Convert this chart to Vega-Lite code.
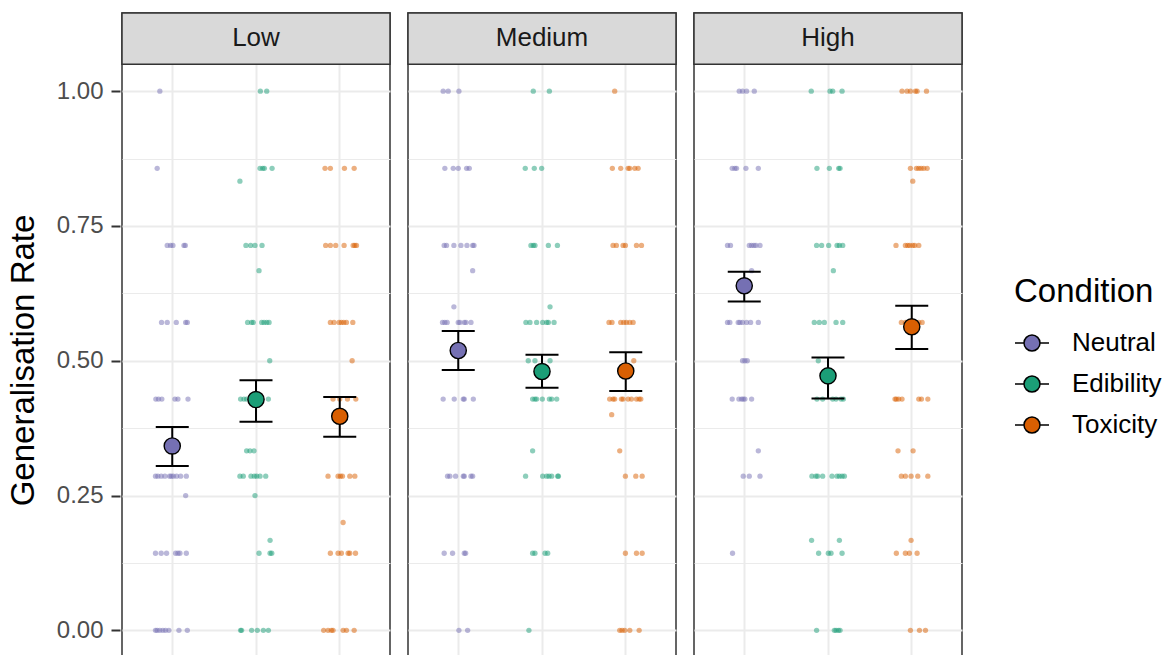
{
"$schema": "https://vega.github.io/schema/vega-lite/v6.json",
"background": "white",
"padding": {"left": 7, "top": 11, "right": 0, "bottom": 0},
"data": {"values": [
{"level":"Low","cond":"Neutral","rate":1,"jit":-0.148},
{"level":"Low","cond":"Neutral","rate":0.857,"jit":-0.18},
{"level":"Low","cond":"Neutral","rate":0.714,"jit":-0.06},
{"level":"Low","cond":"Neutral","rate":0.714,"jit":-0.02},
{"level":"Low","cond":"Neutral","rate":0.714,"jit":0.008},
{"level":"Low","cond":"Neutral","rate":0.714,"jit":0.14},
{"level":"Low","cond":"Neutral","rate":0.714,"jit":0.156},
{"level":"Low","cond":"Neutral","rate":0.571,"jit":-0.128},
{"level":"Low","cond":"Neutral","rate":0.571,"jit":-0.06},
{"level":"Low","cond":"Neutral","rate":0.571,"jit":0.048},
{"level":"Low","cond":"Neutral","rate":0.571,"jit":0.16},
{"level":"Low","cond":"Neutral","rate":0.571,"jit":0.18},
{"level":"Low","cond":"Neutral","rate":0.429,"jit":-0.196},
{"level":"Low","cond":"Neutral","rate":0.429,"jit":-0.164},
{"level":"Low","cond":"Neutral","rate":0.429,"jit":-0.124},
{"level":"Low","cond":"Neutral","rate":0.429,"jit":0.032},
{"level":"Low","cond":"Neutral","rate":0.429,"jit":0.068},
{"level":"Low","cond":"Neutral","rate":0.429,"jit":0.188},
{"level":"Low","cond":"Neutral","rate":0.286,"jit":-0.2},
{"level":"Low","cond":"Neutral","rate":0.286,"jit":-0.172},
{"level":"Low","cond":"Neutral","rate":0.286,"jit":-0.132},
{"level":"Low","cond":"Neutral","rate":0.286,"jit":-0.088},
{"level":"Low","cond":"Neutral","rate":0.286,"jit":-0.032},
{"level":"Low","cond":"Neutral","rate":0.286,"jit":-0.012},
{"level":"Low","cond":"Neutral","rate":0.286,"jit":0.012},
{"level":"Low","cond":"Neutral","rate":0.286,"jit":0.052},
{"level":"Low","cond":"Neutral","rate":0.286,"jit":0.1},
{"level":"Low","cond":"Neutral","rate":0.286,"jit":0.168},
{"level":"Low","cond":"Neutral","rate":0.25,"jit":0.16},
{"level":"Low","cond":"Neutral","rate":0.143,"jit":-0.2},
{"level":"Low","cond":"Neutral","rate":0.143,"jit":-0.132},
{"level":"Low","cond":"Neutral","rate":0.143,"jit":-0.068},
{"level":"Low","cond":"Neutral","rate":0.143,"jit":0.04},
{"level":"Low","cond":"Neutral","rate":0.143,"jit":0.068},
{"level":"Low","cond":"Neutral","rate":0.143,"jit":0.092},
{"level":"Low","cond":"Neutral","rate":0.143,"jit":0.168},
{"level":"Low","cond":"Neutral","rate":0,"jit":-0.2},
{"level":"Low","cond":"Neutral","rate":0,"jit":-0.18},
{"level":"Low","cond":"Neutral","rate":0,"jit":-0.148},
{"level":"Low","cond":"Neutral","rate":0,"jit":-0.112},
{"level":"Low","cond":"Neutral","rate":0,"jit":-0.08},
{"level":"Low","cond":"Neutral","rate":0,"jit":-0.04},
{"level":"Low","cond":"Neutral","rate":0,"jit":0.08},
{"level":"Low","cond":"Neutral","rate":0,"jit":0.18},
{"level":"Low","cond":"Edibility","rate":1,"jit":0.052},
{"level":"Low","cond":"Edibility","rate":1,"jit":0.128},
{"level":"Low","cond":"Edibility","rate":0.857,"jit":0.048},
{"level":"Low","cond":"Edibility","rate":0.857,"jit":0.08},
{"level":"Low","cond":"Edibility","rate":0.857,"jit":0.1},
{"level":"Low","cond":"Edibility","rate":0.857,"jit":0.192},
{"level":"Low","cond":"Edibility","rate":0.833,"jit":-0.192},
{"level":"Low","cond":"Edibility","rate":0.714,"jit":-0.12},
{"level":"Low","cond":"Edibility","rate":0.714,"jit":-0.064},
{"level":"Low","cond":"Edibility","rate":0.714,"jit":-0.012},
{"level":"Low","cond":"Edibility","rate":0.714,"jit":0.072},
{"level":"Low","cond":"Edibility","rate":0.667,"jit":0.036},
{"level":"Low","cond":"Edibility","rate":0.571,"jit":-0.1},
{"level":"Low","cond":"Edibility","rate":0.571,"jit":-0.052},
{"level":"Low","cond":"Edibility","rate":0.571,"jit":-0.032},
{"level":"Low","cond":"Edibility","rate":0.571,"jit":0.068},
{"level":"Low","cond":"Edibility","rate":0.571,"jit":0.096},
{"level":"Low","cond":"Edibility","rate":0.571,"jit":0.128},
{"level":"Low","cond":"Edibility","rate":0.571,"jit":0.156},
{"level":"Low","cond":"Edibility","rate":0.5,"jit":0.164},
{"level":"Low","cond":"Edibility","rate":0.429,"jit":-0.184},
{"level":"Low","cond":"Edibility","rate":0.429,"jit":-0.144},
{"level":"Low","cond":"Edibility","rate":0.429,"jit":-0.112},
{"level":"Low","cond":"Edibility","rate":0.429,"jit":-0.06},
{"level":"Low","cond":"Edibility","rate":0.429,"jit":0.068},
{"level":"Low","cond":"Edibility","rate":0.429,"jit":0.148},
{"level":"Low","cond":"Edibility","rate":0.333,"jit":-0.112},
{"level":"Low","cond":"Edibility","rate":0.333,"jit":-0.072},
{"level":"Low","cond":"Edibility","rate":0.333,"jit":-0.024},
{"level":"Low","cond":"Edibility","rate":0.286,"jit":-0.192},
{"level":"Low","cond":"Edibility","rate":0.286,"jit":-0.152},
{"level":"Low","cond":"Edibility","rate":0.286,"jit":-0.06},
{"level":"Low","cond":"Edibility","rate":0.286,"jit":-0.02},
{"level":"Low","cond":"Edibility","rate":0.286,"jit":0.008},
{"level":"Low","cond":"Edibility","rate":0.286,"jit":0.048},
{"level":"Low","cond":"Edibility","rate":0.286,"jit":0.116},
{"level":"Low","cond":"Edibility","rate":0.25,"jit":-0.012},
{"level":"Low","cond":"Edibility","rate":0.167,"jit":0.168},
{"level":"Low","cond":"Edibility","rate":0.143,"jit":0.036},
{"level":"Low","cond":"Edibility","rate":0.143,"jit":0.168},
{"level":"Low","cond":"Edibility","rate":0.143,"jit":0.188},
{"level":"Low","cond":"Edibility","rate":0,"jit":-0.184},
{"level":"Low","cond":"Edibility","rate":0,"jit":-0.172},
{"level":"Low","cond":"Edibility","rate":0,"jit":-0.052},
{"level":"Low","cond":"Edibility","rate":0,"jit":0.016},
{"level":"Low","cond":"Edibility","rate":0,"jit":0.088},
{"level":"Low","cond":"Edibility","rate":0,"jit":0.148},
{"level":"Low","cond":"Toxicity","rate":0.857,"jit":-0.176},
{"level":"Low","cond":"Toxicity","rate":0.857,"jit":-0.112},
{"level":"Low","cond":"Toxicity","rate":0.857,"jit":0.056},
{"level":"Low","cond":"Toxicity","rate":0.857,"jit":0.172},
{"level":"Low","cond":"Toxicity","rate":0.714,"jit":-0.168},
{"level":"Low","cond":"Toxicity","rate":0.714,"jit":-0.112},
{"level":"Low","cond":"Toxicity","rate":0.714,"jit":-0.048},
{"level":"Low","cond":"Toxicity","rate":0.714,"jit":0.052},
{"level":"Low","cond":"Toxicity","rate":0.714,"jit":0.16},
{"level":"Low","cond":"Toxicity","rate":0.714,"jit":0.18},
{"level":"Low","cond":"Toxicity","rate":0.714,"jit":0.2},
{"level":"Low","cond":"Toxicity","rate":0.571,"jit":-0.112},
{"level":"Low","cond":"Toxicity","rate":0.571,"jit":-0.068},
{"level":"Low","cond":"Toxicity","rate":0.571,"jit":-0.008},
{"level":"Low","cond":"Toxicity","rate":0.571,"jit":0.02},
{"level":"Low","cond":"Toxicity","rate":0.571,"jit":0.048},
{"level":"Low","cond":"Toxicity","rate":0.571,"jit":0.08},
{"level":"Low","cond":"Toxicity","rate":0.571,"jit":0.156},
{"level":"Low","cond":"Toxicity","rate":0.5,"jit":0.148},
{"level":"Low","cond":"Toxicity","rate":0.429,"jit":-0.08},
{"level":"Low","cond":"Toxicity","rate":0.429,"jit":0},
{"level":"Low","cond":"Toxicity","rate":0.429,"jit":0.092},
{"level":"Low","cond":"Toxicity","rate":0.429,"jit":0.192},
{"level":"Low","cond":"Toxicity","rate":0.286,"jit":-0.14},
{"level":"Low","cond":"Toxicity","rate":0.286,"jit":-0.02},
{"level":"Low","cond":"Toxicity","rate":0.286,"jit":0.008},
{"level":"Low","cond":"Toxicity","rate":0.286,"jit":0.032},
{"level":"Low","cond":"Toxicity","rate":0.286,"jit":0.12},
{"level":"Low","cond":"Toxicity","rate":0.286,"jit":0.18},
{"level":"Low","cond":"Toxicity","rate":0.2,"jit":0.04},
{"level":"Low","cond":"Toxicity","rate":0.143,"jit":-0.112},
{"level":"Low","cond":"Toxicity","rate":0.143,"jit":-0.02},
{"level":"Low","cond":"Toxicity","rate":0.143,"jit":0.02},
{"level":"Low","cond":"Toxicity","rate":0.143,"jit":0.1},
{"level":"Low","cond":"Toxicity","rate":0.143,"jit":0.12},
{"level":"Low","cond":"Toxicity","rate":0.143,"jit":0.188},
{"level":"Low","cond":"Toxicity","rate":0,"jit":-0.192},
{"level":"Low","cond":"Toxicity","rate":0,"jit":-0.14},
{"level":"Low","cond":"Toxicity","rate":0,"jit":-0.1},
{"level":"Low","cond":"Toxicity","rate":0,"jit":-0.08},
{"level":"Low","cond":"Toxicity","rate":0,"jit":0.04},
{"level":"Low","cond":"Toxicity","rate":0,"jit":0.08},
{"level":"Low","cond":"Toxicity","rate":0,"jit":0.172},
{"level":"Medium","cond":"Neutral","rate":1,"jit":-0.18},
{"level":"Medium","cond":"Neutral","rate":1,"jit":-0.12},
{"level":"Medium","cond":"Neutral","rate":1,"jit":0.008},
{"level":"Medium","cond":"Neutral","rate":0.857,"jit":-0.16},
{"level":"Medium","cond":"Neutral","rate":0.857,"jit":-0.06},
{"level":"Medium","cond":"Neutral","rate":0.857,"jit":0},
{"level":"Medium","cond":"Neutral","rate":0.857,"jit":0.1},
{"level":"Medium","cond":"Neutral","rate":0.857,"jit":0.132},
{"level":"Medium","cond":"Neutral","rate":0.714,"jit":-0.168},
{"level":"Medium","cond":"Neutral","rate":0.714,"jit":-0.14},
{"level":"Medium","cond":"Neutral","rate":0.714,"jit":-0.052},
{"level":"Medium","cond":"Neutral","rate":0.714,"jit":0.032},
{"level":"Medium","cond":"Neutral","rate":0.714,"jit":0.104},
{"level":"Medium","cond":"Neutral","rate":0.714,"jit":0.172},
{"level":"Medium","cond":"Neutral","rate":0.714,"jit":0.188},
{"level":"Medium","cond":"Neutral","rate":0.667,"jit":0.172},
{"level":"Medium","cond":"Neutral","rate":0.6,"jit":-0.052},
{"level":"Medium","cond":"Neutral","rate":0.571,"jit":-0.188},
{"level":"Medium","cond":"Neutral","rate":0.571,"jit":-0.16},
{"level":"Medium","cond":"Neutral","rate":0.571,"jit":-0.132},
{"level":"Medium","cond":"Neutral","rate":0.571,"jit":0},
{"level":"Medium","cond":"Neutral","rate":0.571,"jit":0.02},
{"level":"Medium","cond":"Neutral","rate":0.571,"jit":0.072},
{"level":"Medium","cond":"Neutral","rate":0.571,"jit":0.092},
{"level":"Medium","cond":"Neutral","rate":0.571,"jit":0.152},
{"level":"Medium","cond":"Neutral","rate":0.429,"jit":-0.18},
{"level":"Medium","cond":"Neutral","rate":0.429,"jit":-0.048},
{"level":"Medium","cond":"Neutral","rate":0.429,"jit":0.06},
{"level":"Medium","cond":"Neutral","rate":0.429,"jit":0.072},
{"level":"Medium","cond":"Neutral","rate":0.429,"jit":0.18},
{"level":"Medium","cond":"Neutral","rate":0.286,"jit":-0.128},
{"level":"Medium","cond":"Neutral","rate":0.286,"jit":-0.1},
{"level":"Medium","cond":"Neutral","rate":0.286,"jit":-0.032},
{"level":"Medium","cond":"Neutral","rate":0.286,"jit":0.06},
{"level":"Medium","cond":"Neutral","rate":0.286,"jit":0.072},
{"level":"Medium","cond":"Neutral","rate":0.286,"jit":0.152},
{"level":"Medium","cond":"Neutral","rate":0.286,"jit":0.172},
{"level":"Medium","cond":"Neutral","rate":0.143,"jit":-0.168},
{"level":"Medium","cond":"Neutral","rate":0.143,"jit":-0.068},
{"level":"Medium","cond":"Neutral","rate":0.143,"jit":0.072},
{"level":"Medium","cond":"Neutral","rate":0.143,"jit":0.088},
{"level":"Medium","cond":"Neutral","rate":0,"jit":0.008},
{"level":"Medium","cond":"Neutral","rate":0,"jit":0.112},
{"level":"Medium","cond":"Edibility","rate":1,"jit":-0.104},
{"level":"Medium","cond":"Edibility","rate":1,"jit":0.088},
{"level":"Medium","cond":"Edibility","rate":0.857,"jit":-0.2},
{"level":"Medium","cond":"Edibility","rate":0.857,"jit":-0.092},
{"level":"Medium","cond":"Edibility","rate":0.857,"jit":-0.004},
{"level":"Medium","cond":"Edibility","rate":0.714,"jit":-0.132},
{"level":"Medium","cond":"Edibility","rate":0.714,"jit":-0.104},
{"level":"Medium","cond":"Edibility","rate":0.714,"jit":-0.084},
{"level":"Medium","cond":"Edibility","rate":0.714,"jit":0.076},
{"level":"Medium","cond":"Edibility","rate":0.714,"jit":0.184},
{"level":"Medium","cond":"Edibility","rate":0.6,"jit":0.096},
{"level":"Medium","cond":"Edibility","rate":0.571,"jit":-0.192},
{"level":"Medium","cond":"Edibility","rate":0.571,"jit":-0.144},
{"level":"Medium","cond":"Edibility","rate":0.571,"jit":-0.064},
{"level":"Medium","cond":"Edibility","rate":0.571,"jit":0.008},
{"level":"Medium","cond":"Edibility","rate":0.571,"jit":0.056},
{"level":"Medium","cond":"Edibility","rate":0.571,"jit":0.076},
{"level":"Medium","cond":"Edibility","rate":0.571,"jit":0.144},
{"level":"Medium","cond":"Edibility","rate":0.5,"jit":-0.164},
{"level":"Medium","cond":"Edibility","rate":0.5,"jit":-0.084},
{"level":"Medium","cond":"Edibility","rate":0.5,"jit":0.096},
{"level":"Medium","cond":"Edibility","rate":0.429,"jit":-0.112},
{"level":"Medium","cond":"Edibility","rate":0.429,"jit":-0.084},
{"level":"Medium","cond":"Edibility","rate":0.429,"jit":-0.064},
{"level":"Medium","cond":"Edibility","rate":0.429,"jit":0.004},
{"level":"Medium","cond":"Edibility","rate":0.429,"jit":0.088},
{"level":"Medium","cond":"Edibility","rate":0.429,"jit":0.116},
{"level":"Medium","cond":"Edibility","rate":0.429,"jit":0.176},
{"level":"Medium","cond":"Edibility","rate":0.333,"jit":-0.112},
{"level":"Medium","cond":"Edibility","rate":0.286,"jit":-0.196},
{"level":"Medium","cond":"Edibility","rate":0.286,"jit":0.008},
{"level":"Medium","cond":"Edibility","rate":0.286,"jit":0.056},
{"level":"Medium","cond":"Edibility","rate":0.286,"jit":0.084},
{"level":"Medium","cond":"Edibility","rate":0.286,"jit":0.116},
{"level":"Medium","cond":"Edibility","rate":0.286,"jit":0.188},
{"level":"Medium","cond":"Edibility","rate":0.286,"jit":0.196},
{"level":"Medium","cond":"Edibility","rate":0.143,"jit":-0.112},
{"level":"Medium","cond":"Edibility","rate":0.143,"jit":-0.084},
{"level":"Medium","cond":"Edibility","rate":0.143,"jit":0.036},
{"level":"Medium","cond":"Edibility","rate":0.143,"jit":0.068},
{"level":"Medium","cond":"Edibility","rate":0,"jit":-0.156},
{"level":"Medium","cond":"Toxicity","rate":1,"jit":-0.132},
{"level":"Medium","cond":"Toxicity","rate":0.857,"jit":-0.16},
{"level":"Medium","cond":"Toxicity","rate":0.857,"jit":-0.06},
{"level":"Medium","cond":"Toxicity","rate":0.857,"jit":0.028},
{"level":"Medium","cond":"Toxicity","rate":0.857,"jit":0.048},
{"level":"Medium","cond":"Toxicity","rate":0.857,"jit":0.108},
{"level":"Medium","cond":"Toxicity","rate":0.857,"jit":0.148},
{"level":"Medium","cond":"Toxicity","rate":0.714,"jit":-0.152},
{"level":"Medium","cond":"Toxicity","rate":0.714,"jit":-0.112},
{"level":"Medium","cond":"Toxicity","rate":0.714,"jit":-0.032},
{"level":"Medium","cond":"Toxicity","rate":0.714,"jit":-0.004},
{"level":"Medium","cond":"Toxicity","rate":0.714,"jit":0.128},
{"level":"Medium","cond":"Toxicity","rate":0.714,"jit":0.188},
{"level":"Medium","cond":"Toxicity","rate":0.571,"jit":-0.2},
{"level":"Medium","cond":"Toxicity","rate":0.571,"jit":-0.164},
{"level":"Medium","cond":"Toxicity","rate":0.571,"jit":-0.06},
{"level":"Medium","cond":"Toxicity","rate":0.571,"jit":-0.024},
{"level":"Medium","cond":"Toxicity","rate":0.571,"jit":0.008},
{"level":"Medium","cond":"Toxicity","rate":0.571,"jit":0.048},
{"level":"Medium","cond":"Toxicity","rate":0.571,"jit":0.088},
{"level":"Medium","cond":"Toxicity","rate":0.5,"jit":0.096},
{"level":"Medium","cond":"Toxicity","rate":0.429,"jit":-0.192},
{"level":"Medium","cond":"Toxicity","rate":0.429,"jit":-0.152},
{"level":"Medium","cond":"Toxicity","rate":0.429,"jit":-0.132},
{"level":"Medium","cond":"Toxicity","rate":0.429,"jit":-0.052},
{"level":"Medium","cond":"Toxicity","rate":0.429,"jit":-0.032},
{"level":"Medium","cond":"Toxicity","rate":0.429,"jit":0.028},
{"level":"Medium","cond":"Toxicity","rate":0.429,"jit":0.068},
{"level":"Medium","cond":"Toxicity","rate":0.429,"jit":0.128},
{"level":"Medium","cond":"Toxicity","rate":0.429,"jit":0.16},
{"level":"Medium","cond":"Toxicity","rate":0.429,"jit":0.18},
{"level":"Medium","cond":"Toxicity","rate":0.4,"jit":-0.168},
{"level":"Medium","cond":"Toxicity","rate":0.333,"jit":-0.072},
{"level":"Medium","cond":"Toxicity","rate":0.286,"jit":-0.004},
{"level":"Medium","cond":"Toxicity","rate":0.286,"jit":0.12},
{"level":"Medium","cond":"Toxicity","rate":0.286,"jit":0.196},
{"level":"Medium","cond":"Toxicity","rate":0.143,"jit":-0.004},
{"level":"Medium","cond":"Toxicity","rate":0.143,"jit":0.128},
{"level":"Medium","cond":"Toxicity","rate":0.143,"jit":0.196},
{"level":"Medium","cond":"Toxicity","rate":0,"jit":-0.072},
{"level":"Medium","cond":"Toxicity","rate":0,"jit":-0.044},
{"level":"Medium","cond":"Toxicity","rate":0,"jit":-0.012},
{"level":"Medium","cond":"Toxicity","rate":0,"jit":0.048},
{"level":"Medium","cond":"Toxicity","rate":0,"jit":0.16},
{"level":"High","cond":"Neutral","rate":1,"jit":-0.06},
{"level":"High","cond":"Neutral","rate":1,"jit":-0.02},
{"level":"High","cond":"Neutral","rate":1,"jit":0.028},
{"level":"High","cond":"Neutral","rate":1,"jit":0.12},
{"level":"High","cond":"Neutral","rate":0.857,"jit":-0.144},
{"level":"High","cond":"Neutral","rate":0.857,"jit":-0.112},
{"level":"High","cond":"Neutral","rate":0.857,"jit":-0.092},
{"level":"High","cond":"Neutral","rate":0.857,"jit":0.02},
{"level":"High","cond":"Neutral","rate":0.857,"jit":0.168},
{"level":"High","cond":"Neutral","rate":0.714,"jit":-0.2},
{"level":"High","cond":"Neutral","rate":0.714,"jit":-0.164},
{"level":"High","cond":"Neutral","rate":0.714,"jit":0.06},
{"level":"High","cond":"Neutral","rate":0.714,"jit":0.088},
{"level":"High","cond":"Neutral","rate":0.714,"jit":0.116},
{"level":"High","cond":"Neutral","rate":0.714,"jit":0.14},
{"level":"High","cond":"Neutral","rate":0.714,"jit":0.188},
{"level":"High","cond":"Neutral","rate":0.667,"jit":0.088},
{"level":"High","cond":"Neutral","rate":0.571,"jit":-0.2},
{"level":"High","cond":"Neutral","rate":0.571,"jit":-0.172},
{"level":"High","cond":"Neutral","rate":0.571,"jit":-0.072},
{"level":"High","cond":"Neutral","rate":0.571,"jit":-0.052},
{"level":"High","cond":"Neutral","rate":0.571,"jit":-0.02},
{"level":"High","cond":"Neutral","rate":0.571,"jit":0.028},
{"level":"High","cond":"Neutral","rate":0.571,"jit":0.076},
{"level":"High","cond":"Neutral","rate":0.571,"jit":0.168},
{"level":"High","cond":"Neutral","rate":0.5,"jit":-0.02},
{"level":"High","cond":"Neutral","rate":0.5,"jit":0.008},
{"level":"High","cond":"Neutral","rate":0.5,"jit":0.036},
{"level":"High","cond":"Neutral","rate":0.429,"jit":-0.144},
{"level":"High","cond":"Neutral","rate":0.429,"jit":-0.064},
{"level":"High","cond":"Neutral","rate":0.429,"jit":-0.032},
{"level":"High","cond":"Neutral","rate":0.429,"jit":-0.012},
{"level":"High","cond":"Neutral","rate":0.429,"jit":0.008},
{"level":"High","cond":"Neutral","rate":0.429,"jit":0.088},
{"level":"High","cond":"Neutral","rate":0.333,"jit":0.168},
{"level":"High","cond":"Neutral","rate":0.286,"jit":-0.012},
{"level":"High","cond":"Neutral","rate":0.286,"jit":0.06},
{"level":"High","cond":"Neutral","rate":0.286,"jit":0.188},
{"level":"High","cond":"Neutral","rate":0.143,"jit":-0.14},
{"level":"High","cond":"Edibility","rate":1,"jit":-0.2},
{"level":"High","cond":"Edibility","rate":1,"jit":0.024},
{"level":"High","cond":"Edibility","rate":1,"jit":0.056},
{"level":"High","cond":"Edibility","rate":1,"jit":0.168},
{"level":"High","cond":"Edibility","rate":0.857,"jit":-0.132},
{"level":"High","cond":"Edibility","rate":0.857,"jit":0.016},
{"level":"High","cond":"Edibility","rate":0.857,"jit":0.128},
{"level":"High","cond":"Edibility","rate":0.857,"jit":0.144},
{"level":"High","cond":"Edibility","rate":0.714,"jit":-0.136},
{"level":"High","cond":"Edibility","rate":0.714,"jit":-0.076},
{"level":"High","cond":"Edibility","rate":0.714,"jit":0.008},
{"level":"High","cond":"Edibility","rate":0.714,"jit":0.108},
{"level":"High","cond":"Edibility","rate":0.714,"jit":0.136},
{"level":"High","cond":"Edibility","rate":0.714,"jit":0.176},
{"level":"High","cond":"Edibility","rate":0.667,"jit":0.064},
{"level":"High","cond":"Edibility","rate":0.571,"jit":-0.164},
{"level":"High","cond":"Edibility","rate":0.571,"jit":-0.104},
{"level":"High","cond":"Edibility","rate":0.571,"jit":-0.044},
{"level":"High","cond":"Edibility","rate":0.571,"jit":0.096},
{"level":"High","cond":"Edibility","rate":0.571,"jit":0.176},
{"level":"High","cond":"Edibility","rate":0.5,"jit":-0.116},
{"level":"High","cond":"Edibility","rate":0.429,"jit":-0.132},
{"level":"High","cond":"Edibility","rate":0.429,"jit":-0.064},
{"level":"High","cond":"Edibility","rate":0.429,"jit":0.056},
{"level":"High","cond":"Edibility","rate":0.429,"jit":0.096},
{"level":"High","cond":"Edibility","rate":0.429,"jit":0.156},
{"level":"High","cond":"Edibility","rate":0.429,"jit":0.184},
{"level":"High","cond":"Edibility","rate":0.286,"jit":-0.192},
{"level":"High","cond":"Edibility","rate":0.286,"jit":-0.144},
{"level":"High","cond":"Edibility","rate":0.286,"jit":-0.124},
{"level":"High","cond":"Edibility","rate":0.286,"jit":-0.064},
{"level":"High","cond":"Edibility","rate":0.286,"jit":0.048},
{"level":"High","cond":"Edibility","rate":0.286,"jit":0.108},
{"level":"High","cond":"Edibility","rate":0.286,"jit":0.136},
{"level":"High","cond":"Edibility","rate":0.286,"jit":0.168},
{"level":"High","cond":"Edibility","rate":0.286,"jit":0.196},
{"level":"High","cond":"Edibility","rate":0.167,"jit":-0.196},
{"level":"High","cond":"Edibility","rate":0.167,"jit":0.136},
{"level":"High","cond":"Edibility","rate":0.143,"jit":-0.112},
{"level":"High","cond":"Edibility","rate":0.143,"jit":0.004},
{"level":"High","cond":"Edibility","rate":0.143,"jit":0.036},
{"level":"High","cond":"Edibility","rate":0.143,"jit":0.168},
{"level":"High","cond":"Edibility","rate":0,"jit":-0.136},
{"level":"High","cond":"Edibility","rate":0,"jit":0.076},
{"level":"High","cond":"Edibility","rate":0,"jit":0.096},
{"level":"High","cond":"Edibility","rate":0,"jit":0.124},
{"level":"High","cond":"Edibility","rate":0,"jit":0.144},
{"level":"High","cond":"Toxicity","rate":1,"jit":-0.116},
{"level":"High","cond":"Toxicity","rate":1,"jit":-0.056},
{"level":"High","cond":"Toxicity","rate":1,"jit":-0.016},
{"level":"High","cond":"Toxicity","rate":1,"jit":0.044},
{"level":"High","cond":"Toxicity","rate":1,"jit":0.064},
{"level":"High","cond":"Toxicity","rate":1,"jit":0.176},
{"level":"High","cond":"Toxicity","rate":0.857,"jit":-0.016},
{"level":"High","cond":"Toxicity","rate":0.857,"jit":0.056},
{"level":"High","cond":"Toxicity","rate":0.857,"jit":0.084},
{"level":"High","cond":"Toxicity","rate":0.857,"jit":0.112},
{"level":"High","cond":"Toxicity","rate":0.857,"jit":0.144},
{"level":"High","cond":"Toxicity","rate":0.857,"jit":0.184},
{"level":"High","cond":"Toxicity","rate":0.833,"jit":0.012},
{"level":"High","cond":"Toxicity","rate":0.714,"jit":-0.188},
{"level":"High","cond":"Toxicity","rate":0.714,"jit":-0.076},
{"level":"High","cond":"Toxicity","rate":0.714,"jit":-0.048},
{"level":"High","cond":"Toxicity","rate":0.714,"jit":-0.024},
{"level":"High","cond":"Toxicity","rate":0.714,"jit":0.012},
{"level":"High","cond":"Toxicity","rate":0.714,"jit":0.036},
{"level":"High","cond":"Toxicity","rate":0.714,"jit":0.084},
{"level":"High","cond":"Toxicity","rate":0.571,"jit":-0.124},
{"level":"High","cond":"Toxicity","rate":0.571,"jit":-0.076},
{"level":"High","cond":"Toxicity","rate":0.571,"jit":0.084},
{"level":"High","cond":"Toxicity","rate":0.571,"jit":0.124},
{"level":"High","cond":"Toxicity","rate":0.429,"jit":-0.2},
{"level":"High","cond":"Toxicity","rate":0.429,"jit":-0.184},
{"level":"High","cond":"Toxicity","rate":0.429,"jit":-0.156},
{"level":"High","cond":"Toxicity","rate":0.429,"jit":-0.116},
{"level":"High","cond":"Toxicity","rate":0.429,"jit":0.084},
{"level":"High","cond":"Toxicity","rate":0.429,"jit":0.116},
{"level":"High","cond":"Toxicity","rate":0.429,"jit":0.192},
{"level":"High","cond":"Toxicity","rate":0.333,"jit":-0.164},
{"level":"High","cond":"Toxicity","rate":0.333,"jit":0.016},
{"level":"High","cond":"Toxicity","rate":0.286,"jit":-0.124},
{"level":"High","cond":"Toxicity","rate":0.286,"jit":-0.076},
{"level":"High","cond":"Toxicity","rate":0.286,"jit":-0.008},
{"level":"High","cond":"Toxicity","rate":0.286,"jit":0.072},
{"level":"High","cond":"Toxicity","rate":0.286,"jit":0.192},
{"level":"High","cond":"Toxicity","rate":0.167,"jit":-0.008},
{"level":"High","cond":"Toxicity","rate":0.143,"jit":-0.184},
{"level":"High","cond":"Toxicity","rate":0.143,"jit":-0.076},
{"level":"High","cond":"Toxicity","rate":0.143,"jit":-0.028},
{"level":"High","cond":"Toxicity","rate":0.143,"jit":0.064},
{"level":"High","cond":"Toxicity","rate":0,"jit":-0.016},
{"level":"High","cond":"Toxicity","rate":0,"jit":0.092},
{"level":"High","cond":"Toxicity","rate":0,"jit":0.164},
{"level":"Low","cond":"Neutral","mean":0.342,"lo":0.305,"hi":0.377},
{"level":"Low","cond":"Edibility","mean":0.428,"lo":0.387,"hi":0.464},
{"level":"Low","cond":"Toxicity","mean":0.397,"lo":0.359,"hi":0.433},
{"level":"Medium","cond":"Neutral","mean":0.519,"lo":0.483,"hi":0.555},
{"level":"Medium","cond":"Edibility","mean":0.48,"lo":0.45,"hi":0.511},
{"level":"Medium","cond":"Toxicity","mean":0.481,"lo":0.444,"hi":0.516},
{"level":"High","cond":"Neutral","mean":0.639,"lo":0.61,"hi":0.665},
{"level":"High","cond":"Edibility","mean":0.472,"lo":0.43,"hi":0.506},
{"level":"High","cond":"Toxicity","mean":0.563,"lo":0.522,"hi":0.602}
]},
"facet": {"column": {"field": "level", "type": "nominal", "sort": ["Low", "Medium", "High"], "header": {"labels": false, "title": null}}},
"spacing": {"column": 14},
"spec": {
  "width": 268,
  "height": 643,
  "layer": [
    {
      "transform": [{"filter": "isValid(datum.rate)"}],
      "mark": {"type": "point", "filled": true, "size": 28, "opacity": 0.5, "strokeWidth": 0},
      "encoding": {
        "x": {"field": "cond", "type": "nominal", "sort": ["Neutral", "Edibility", "Toxicity"],
              "scale": {"type": "band", "domain": ["Neutral", "Edibility", "Toxicity"], "paddingInner": 0, "paddingOuter": 0.1},
              "axis": {"labels": false, "ticks": false, "domain": false, "title": null, "grid": true, "gridColor": "#EBEBEB", "gridWidth": 2, "bandPosition": 0.5}},
        "xOffset": {"field": "jit", "type": "quantitative", "scale": {"domain": [-0.5, 0.5]}},
        "y": {"field": "rate", "type": "quantitative", "title": "Generalisation Rate",
              "scale": {"domain": [-0.0476, 1.145], "nice": false, "zero": false},
              "axis": {
                "title": "Generalisation Rate",
                "values": [0, 0.125, 0.25, 0.375, 0.5, 0.625, 0.75, 0.875, 1],
                "labelExpr": "datum.value * 4 % 1 === 0 ? format(datum.value, '.2f') : ''",
                "grid": true, "gridColor": "#EBEBEB",
                "gridWidth": {"condition": {"test": "datum.value * 4 % 1 === 0", "value": 2}, "value": 1},
                "tickColor": {"condition": {"test": "datum.value * 4 % 1 === 0", "value": "#333333"}, "value": "transparent"},
                "tickWidth": 2, "tickSize": 9, "labelPadding": 8, "domain": false,
                "labelFontSize": 24, "labelColor": "#4D4D4D", "labelFont": "Liberation Sans",
                "titleFontSize": 33, "titleFont": "Liberation Sans", "titleFontWeight": "normal", "titleColor": "#000000",
                "titlePadding": 16, "titleY": 347
              }},
        "color": {"field": "cond", "type": "nominal", "title": "Condition",
                  "scale": {"domain": ["Neutral", "Edibility", "Toxicity"], "range": ["#7570B3", "#1B9E77", "#D95F02"]}}
      }
    },
    {
      "transform": [{"filter": "isValid(datum.mean)"}],
      "mark": {"type": "rule", "color": "#000000", "strokeWidth": 2},
      "encoding": {
        "x": {"field": "cond", "type": "nominal", "sort": ["Neutral", "Edibility", "Toxicity"]},
        "y": {"field": "lo", "type": "quantitative", "title": "Generalisation Rate"},
        "y2": {"field": "hi"}
      }
    },
    {
      "transform": [{"filter": "isValid(datum.mean)"}],
      "mark": {"type": "tick", "color": "#000000", "thickness": 2, "size": 33, "opacity": 1},
      "encoding": {
        "x": {"field": "cond", "type": "nominal", "sort": ["Neutral", "Edibility", "Toxicity"]},
        "y": {"field": "lo", "type": "quantitative", "title": "Generalisation Rate"}
      }
    },
    {
      "transform": [{"filter": "isValid(datum.mean)"}],
      "mark": {"type": "tick", "color": "#000000", "thickness": 2, "size": 33, "opacity": 1},
      "encoding": {
        "x": {"field": "cond", "type": "nominal", "sort": ["Neutral", "Edibility", "Toxicity"]},
        "y": {"field": "hi", "type": "quantitative", "title": "Generalisation Rate"}
      }
    },
    {
      "transform": [{"filter": "isValid(datum.mean)"}],
      "mark": {"type": "point", "filled": true, "size": 262, "opacity": 1, "stroke": "#000000", "strokeWidth": 1.4},
      "encoding": {
        "x": {"field": "cond", "type": "nominal", "sort": ["Neutral", "Edibility", "Toxicity"]},
        "y": {"field": "mean", "type": "quantitative", "title": "Generalisation Rate"},
        "color": {"field": "cond", "type": "nominal", "title": "Condition"}
      }
    },
    {
      "transform": [{"aggregate": [{"op": "count", "as": "n"}], "groupby": ["level"]}],
      "mark": {"type": "rect", "fill": "#D9D9D9", "stroke": "#333333", "strokeWidth": 1.5},
      "encoding": {
        "y": {"datum": 1.05, "type": "quantitative", "title": "Generalisation Rate"},
        "y2": {"datum": 1.145}
      }
    },
    {
      "transform": [{"aggregate": [{"op": "count", "as": "n"}], "groupby": ["level"]}],
      "mark": {"type": "text", "fontSize": 26, "font": "Liberation Sans", "color": "#1A1A1A", "baseline": "middle", "align": "center", "dy": -1},
      "encoding": {
        "y": {"datum": 1.0975, "type": "quantitative", "title": "Generalisation Rate"},
        "text": {"field": "level", "type": "nominal"}
      }
    }
  ]
},
"config": {
  "font": "Liberation Sans",
  "view": {"stroke": "#333333", "strokeWidth": 1.5},
  "legend": {
    "orient": "none", "legendX": 892, "legendY": 263, "padding": 0,
    "titleFontSize": 33, "titleFont": "Liberation Sans", "titleFontWeight": "normal", "titleColor": "#000000", "titlePadding": 16,
    "labelFontSize": 26, "labelFont": "Liberation Sans", "labelColor": "#000000", "labelOffset": 22,
    "symbolType": "M-1,0L-0.47,0M0.47,0L1,0M-0.47,0A0.47,0.47,0,1,1,0.47,0A0.47,0.47,0,1,1,-0.47,0Z",
    "symbolSize": 1156, "symbolStrokeColor": "#000000", "symbolStrokeWidth": 1.5, "symbolOpacity": 1,
    "rowPadding": 10
  }
}
}
